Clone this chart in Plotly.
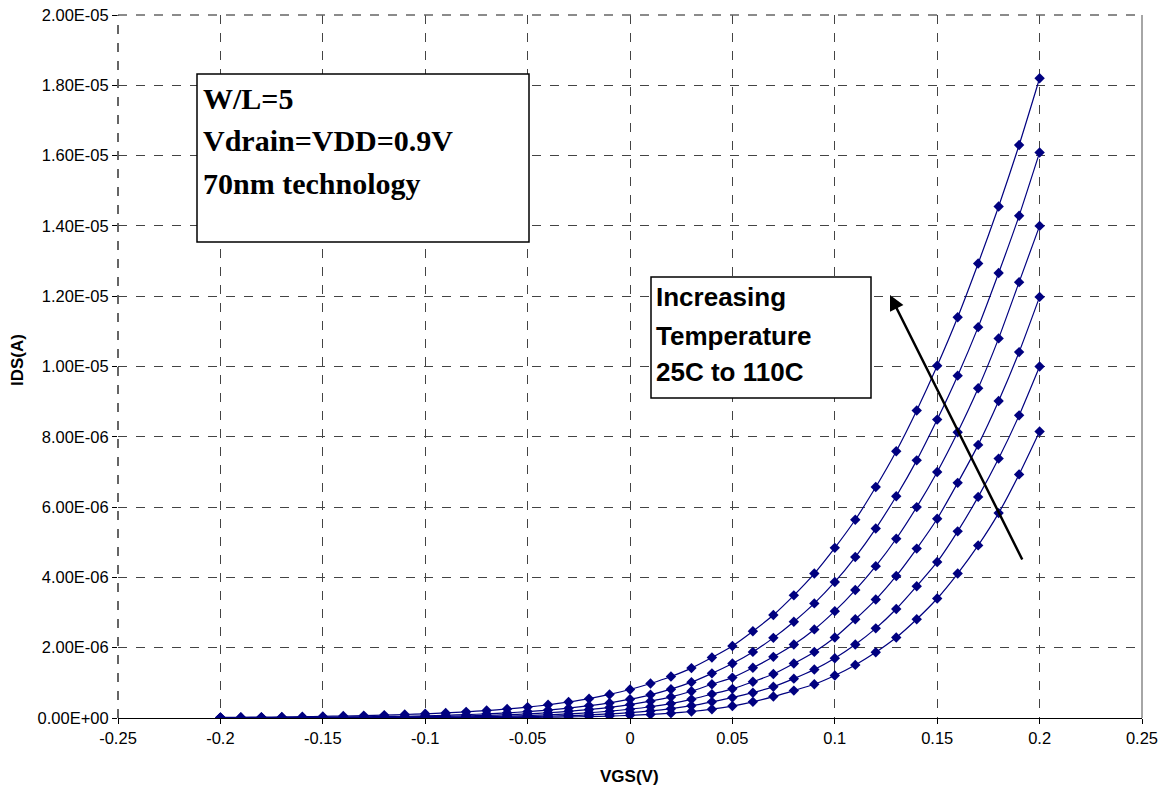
import plotly.graph_objects as go

# VGS values (V)
vgs = [-0.20, -0.19, -0.18, -0.17, -0.16, -0.15, -0.14, -0.13, -0.12, -0.11,
       -0.10, -0.09, -0.08, -0.07, -0.06, -0.05, -0.04, -0.03, -0.02, -0.01,
       0.00, 0.01, 0.02, 0.03, 0.04, 0.05, 0.06, 0.07, 0.08, 0.09,
       0.10, 0.11, 0.12, 0.13, 0.14, 0.15, 0.16, 0.17, 0.18, 0.19, 0.20]

# IDS values in microamps, one list per temperature (25C ... 110C)
ids_t1 = [0.00018, 0.00025, 0.00033, 0.00045, 0.0006, 0.0008, 0.0011, 0.0015, 0.002, 0.0027,
          0.0036, 0.0049, 0.0066, 0.0089, 0.012, 0.016, 0.022, 0.030, 0.041, 0.055,
          0.075, 0.101, 0.137, 0.185, 0.25, 0.34, 0.46, 0.61, 0.78, 0.96,
          1.21, 1.51, 1.87, 2.29, 2.81, 3.40, 4.11, 4.91, 5.83, 6.93, 8.15]
ids_t2 = [0.0006, 0.0008, 0.001, 0.0014, 0.0018, 0.0024, 0.0031, 0.0041, 0.0054, 0.0072,
          0.0095, 0.0125, 0.0165, 0.022, 0.029, 0.038, 0.050, 0.066, 0.087, 0.115,
          0.152, 0.20, 0.265, 0.35, 0.46, 0.58, 0.72, 0.89, 1.12, 1.38,
          1.70, 2.09, 2.55, 3.10, 3.75, 4.44, 5.31, 6.29, 7.38, 8.61, 10.0]
ids_t3 = [0.0015, 0.002, 0.0025, 0.0033, 0.0042, 0.0054, 0.007, 0.009, 0.0117, 0.015,
          0.0195, 0.025, 0.033, 0.042, 0.054, 0.070, 0.090, 0.116, 0.150, 0.193,
          0.25, 0.32, 0.41, 0.53, 0.68, 0.83, 1.03, 1.25, 1.55, 1.88,
          2.29, 2.81, 3.37, 4.04, 4.82, 5.67, 6.69, 7.77, 9.02, 10.41, 11.98]
ids_t4 = [0.0037, 0.0046, 0.0058, 0.0074, 0.0093, 0.0117, 0.0147, 0.0185, 0.023, 0.030,
          0.037, 0.047, 0.059, 0.075, 0.094, 0.119, 0.15, 0.19, 0.24, 0.30,
          0.38, 0.48, 0.60, 0.76, 0.96, 1.15, 1.43, 1.74, 2.09, 2.52,
          3.04, 3.64, 4.32, 5.10, 6.00, 7.00, 8.13, 9.38, 10.80, 12.40, 14.00]
ids_t5 = [0.0072, 0.009, 0.0111, 0.0138, 0.017, 0.021, 0.026, 0.033, 0.040, 0.050,
          0.062, 0.077, 0.096, 0.119, 0.147, 0.182, 0.226, 0.28, 0.35, 0.43,
          0.535, 0.66, 0.82, 1.02, 1.27, 1.55, 1.88, 2.28, 2.74, 3.26,
          3.87, 4.58, 5.39, 6.31, 7.33, 8.49, 9.74, 11.12, 12.66, 14.29, 16.09]
ids_t6 = [0.018, 0.021, 0.026, 0.031, 0.038, 0.046, 0.056, 0.068, 0.082, 0.099,
          0.12, 0.145, 0.175, 0.212, 0.257, 0.31, 0.375, 0.455, 0.55, 0.67,
          0.81, 0.98, 1.18, 1.42, 1.72, 2.05, 2.47, 2.93, 3.49, 4.11,
          4.84, 5.64, 6.57, 7.59, 8.75, 10.02, 11.40, 12.93, 14.55, 16.30, 18.20]

series = [ids_t1, ids_t2, ids_t3, ids_t4, ids_t5, ids_t6]

x_ticks = [-0.25, -0.2, -0.15, -0.1, -0.05, 0, 0.05, 0.1, 0.15, 0.2, 0.25]
x_ticktext = ["-0.25", "-0.2", "-0.15", "-0.1", "-0.05", "0", "0.05", "0.1", "0.15", "0.2", "0.25"]
y_ticks = [0, 2e-6, 4e-6, 6e-6, 8e-6, 1e-5, 1.2e-5, 1.4e-5, 1.6e-5, 1.8e-5, 2e-5]
y_ticktext = ["0.00E+00", "2.00E-06", "4.00E-06", "6.00E-06", "8.00E-06", "1.00E-05",
              "1.20E-05", "1.40E-05", "1.60E-05", "1.80E-05", "2.00E-05"]

NAVY = "#000080"
SANS = "Arial, Liberation Sans, sans-serif"
SERIF = "Times New Roman, Liberation Serif, serif"

# body margin is removed in the page, so the figure fills the window exactly
W, H = 1167, 793
L, R, T, B = 118, 25, 15, 75
PW = W - L - R
PH = H - T - B


def px_x(px):
    return (px - L) / PW


def px_y(py):
    return (H - B - py) / PH


fig = go.Figure()
for s in series:
    fig.add_trace(go.Scatter(
        x=vgs, y=[v * 1e-6 for v in s], mode="lines+markers",
        line=dict(color=NAVY, width=1.2, shape="spline", smoothing=0.6),
        marker=dict(symbol="diamond", size=8, color=NAVY),
        showlegend=False, hoverinfo="skip"))

fig.update_layout(
    width=W, height=H,
    margin=dict(l=L, r=R, t=T, b=B, autoexpand=False),
    paper_bgcolor="white", plot_bgcolor="white",
    font=dict(family=SANS, size=16.5, color="black"),
)

fig.update_xaxes(
    range=[-0.25, 0.25], tickvals=x_ticks, ticktext=x_ticktext,
    showgrid=True, gridcolor="#444", griddash="dash", gridwidth=1,
    zeroline=False, showline=True, linecolor="black", linewidth=1,
    ticks="outside", ticklen=5, tickcolor="black", automargin=False,
    ticklabeloverflow="allow",
)
fig.update_yaxes(
    range=[0, 2e-5], tickvals=y_ticks, ticktext=y_ticktext,
    showgrid=True, gridcolor="#444", griddash="dash", gridwidth=1,
    zeroline=False, showline=False,
    ticks="outside", ticklen=5, tickcolor="black", automargin=False,
    ticklabeloverflow="allow",
)

# axis titles
fig.add_annotation(xref="paper", yref="paper", x=px_x(629), y=px_y(776),
                   text="<b>VGS(V)</b>", showarrow=False, xanchor="center", yanchor="middle",
                   font=dict(family=SANS, size=17, color="black"))
fig.add_annotation(xref="paper", yref="paper", x=px_x(17), y=px_y(360),
                   text="<b>IDS(A)</b>", showarrow=False, textangle=-90,
                   xanchor="center", yanchor="middle",
                   font=dict(family=SANS, size=17, color="black"))

# plot-area edges: right solid gray, top and left dashed gray
fig.add_shape(type="line", xref="paper", yref="paper", x0=1, x1=1, y0=0, y1=1,
              line=dict(color="#888", width=1.5))
fig.add_shape(type="line", xref="paper", yref="paper", x0=0, x1=1, y0=1, y1=1,
              line=dict(color="#666", width=1.5, dash="dash"))
fig.add_shape(type="line", xref="paper", yref="paper", x0=0, x1=0, y0=0, y1=1,
              line=dict(color="#555", width=1.8, dash="dash"))

# text box 1
fig.add_shape(type="rect", xref="paper", yref="paper",
              x0=px_x(197), x1=px_x(529), y0=px_y(242), y1=px_y(74),
              line=dict(color="black", width=1.5), fillcolor="white", layer="above")
for txt, ypx in [("W/L=5", 98), ("Vdrain=VDD=0.9V", 141), ("70nm technology", 183)]:
    fig.add_annotation(xref="paper", yref="paper", x=px_x(201),
                       y=px_y(ypx), xanchor="left", yanchor="middle",
                       text="<b>" + txt + "</b>", showarrow=False,
                       font=dict(family=SERIF, size=30, color="black"))

# text box 2
fig.add_shape(type="rect", xref="paper", yref="paper",
              x0=px_x(651), x1=px_x(871), y0=px_y(398), y1=px_y(277),
              line=dict(color="black", width=1.5), fillcolor="white", layer="above")
for txt, ypx in [("Increasing", 297), ("Temperature", 336), ("25C to 110C", 372)]:
    fig.add_annotation(xref="paper", yref="paper", x=px_x(654),
                       y=px_y(ypx), xanchor="left", yanchor="middle",
                       text="<b>" + txt + "</b>", showarrow=False,
                       font=dict(family=SANS, size=26, color="black"))

# arrow
fig.add_annotation(xref="paper", yref="paper", x=px_x(890),
                   y=px_y(295), ax=133, ay=266, text="",
                   showarrow=True, arrowhead=2, arrowsize=1.2, arrowwidth=2.5,
                   arrowcolor="black")

fig.write_html("out.html", config={"displayModeBar": False},
               post_script="document.body.style.margin='0';document.body.style.overflow='hidden';")
